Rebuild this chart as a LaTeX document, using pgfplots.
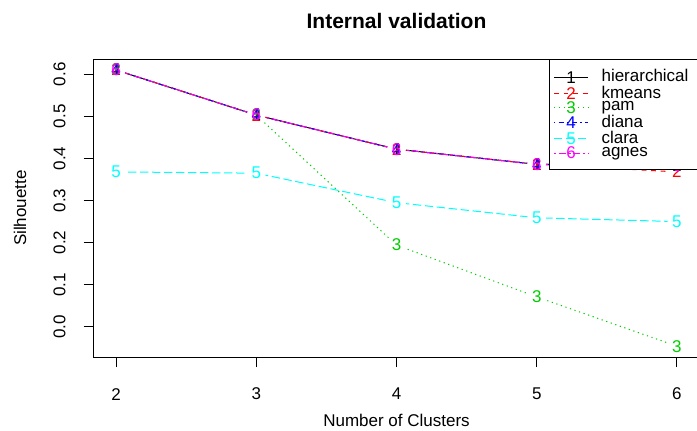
\documentclass[border=0pt]{standalone}
\usepackage{fontspec}
\setmainfont{Liberation Sans}
\usepackage{pgfplots}
\pgfplotsset{compat=1.18}
\definecolor{rgreen}{RGB}{0,205,0}
\definecolor{rcyan}{RGB}{0,255,255}
\definecolor{rmag}{RGB}{255,0,255}
\newcommand{\fs}{\fontsize{8.5}{10}\selectfont}
\begin{document}
\begin{tikzpicture}
\begin{axis}[
  at={(0,0)}, anchor=south west,
  scale only axis, width=302.9pt, height=149pt,
  xmin=1.84, xmax=6.16, ymin=-0.072, ymax=0.636,
  xtick={2,3,4,5,6}, ytick={0,0.1,0.2,0.3,0.4,0.5,0.6},
  xtick pos=left, ytick pos=left, tick align=outside,
  major tick length=5pt,
  tick style={black, line width=0.5pt},
  axis line style={black, line width=0.5pt},
  tick label style={font=\fs},
  /pgf/number format/assume math mode=true,
  yticklabel={\pgfmathprintnumber[fixed, fixed zerofill, precision=1]{\tick}},
  yticklabel style={anchor=center, rotate=90, yshift=12pt},
  xticklabel style={anchor=center, yshift=-13.5pt},
  xlabel={Number of Clusters}, ylabel={Silhouette},
  xlabel style={font=\fs, at={(axis description cs:0.5,0)}, anchor=center, yshift=-31.5pt},
  ylabel style={font=\fs, at={(axis description cs:0,0.5)}, anchor=center, yshift=36.8pt},
  title={Internal validation},
  title style={font=\fontsize{10.5}{12}\selectfont\bfseries, at={(axis description cs:0.5,1)}, anchor=center, yshift=13pt},
  legend style={at={(0.7516,1)}, anchor=north west, draw=black, line width=0.5pt,
    font=\fs, inner xsep=2pt, inner ysep=3pt, row sep=-3.6pt, cells={anchor=west},
    /tikz/every odd column/.append style={column sep=4.5pt}},
]
\addlegendimage{black, line width=0.5pt, solid, mark=text, text mark={\textcolor{black}{\fs 1}}}
\addlegendentry{hierarchical\hspace*{8pt}}
\addlegendimage{red, line width=0.5pt, dash pattern=on 2.4pt off 2.4pt, mark=text, text mark={\textcolor{red}{\fs 2}}}
\addlegendentry{kmeans}
\addlegendimage{rgreen, line width=0.5pt, dash pattern=on 0.6pt off 1.8pt, mark=text, text mark={\textcolor{rgreen}{\fs 3}}}
\addlegendentry{pam}
\addlegendimage{blue, line width=0.5pt, dash pattern=on 0.6pt off 1.8pt on 2.4pt off 1.8pt, mark=text, text mark={\textcolor{blue}{\fs 4}}}
\addlegendentry{diana}
\addlegendimage{rcyan, line width=0.5pt, dash pattern=on 4.2pt off 1.8pt, mark=text, text mark={\textcolor{rcyan}{\fs 5}}}
\addlegendentry{clara}
\addlegendimage{rmag, line width=0.5pt, dash pattern=on 1.2pt off 1.2pt on 3.6pt off 1.2pt, mark=text, text mark={\textcolor{rmag}{\fs 6}}}
\addlegendentry{agnes}
% lines
\addplot[forget plot, black, line width=0.5pt, solid] coordinates {(2,0.610) (3,0.503) (4,0.422) (5,0.386) (6,0.382)};
\addplot[forget plot, red, line width=0.5pt, dash pattern=on 2.4pt off 2.4pt] coordinates {(2,0.610) (3,0.503) (4,0.422) (5,0.386) (6,0.368)};
\addplot[forget plot, rgreen, line width=0.5pt, dash pattern=on 0.6pt off 1.8pt] coordinates {(2,0.610) (3,0.503) (4,0.194) (5,0.071) (6,-0.046)};
\addplot[forget plot, blue, line width=0.5pt, dash pattern=on 0.6pt off 1.8pt on 2.4pt off 1.8pt] coordinates {(2,0.610) (3,0.503) (4,0.422) (5,0.386) (6,0.382)};
\addplot[forget plot, rcyan, line width=0.5pt, dash pattern=on 4.2pt off 1.8pt] coordinates {(2,0.368) (3,0.365) (4,0.295) (5,0.259) (6,0.250)};
\addplot[forget plot, rmag, line width=0.5pt, dash pattern=on 1.2pt off 1.2pt on 3.6pt off 1.2pt] coordinates {(2,0.610) (3,0.503) (4,0.422) (5,0.386) (6,0.382)};
% gaps
\addplot[forget plot, white, only marks, mark=*, mark size=4.5pt] coordinates {
(2,0.610) (3,0.503) (4,0.422) (5,0.386) (6,0.382) (6,0.368) (4,0.194) (5,0.071) (6,-0.046)
(2,0.368) (3,0.365) (4,0.295) (5,0.259) (6,0.250)};
% marks
\addplot[forget plot, only marks, black, mark=text, text mark={\textcolor{black}{\fs 1}}] coordinates {(2,0.610) (3,0.503) (4,0.422) (5,0.386) (6,0.382)};
\addplot[forget plot, only marks, red, mark=text, text mark={\textcolor{red}{\fs 2}}] coordinates {(2,0.610) (3,0.503) (4,0.422) (5,0.386) (6,0.368)};
\addplot[forget plot, only marks, rgreen, mark=text, text mark={\textcolor{rgreen}{\fs 3}}] coordinates {(2,0.610) (3,0.503) (4,0.194) (5,0.071) (6,-0.046)};
\addplot[forget plot, only marks, blue, mark=text, text mark={\textcolor{blue}{\fs 4}}] coordinates {(2,0.610) (3,0.503) (4,0.422) (5,0.386) (6,0.382)};
\addplot[forget plot, only marks, rcyan, mark=text, text mark={\textcolor{rcyan}{\fs 5}}] coordinates {(2,0.368) (3,0.365) (4,0.295) (5,0.259) (6,0.250)};
\addplot[forget plot, only marks, rmag, mark=text, text mark={\textcolor{rmag}{\fs 6}}] coordinates {(2,0.610) (3,0.503) (4,0.422) (5,0.386) (6,0.382)};
\end{axis}
\pgfresetboundingbox
\path (-46.8pt,-36.5pt) rectangle (301.7pt,178.55pt);
\end{tikzpicture}
\end{document}
